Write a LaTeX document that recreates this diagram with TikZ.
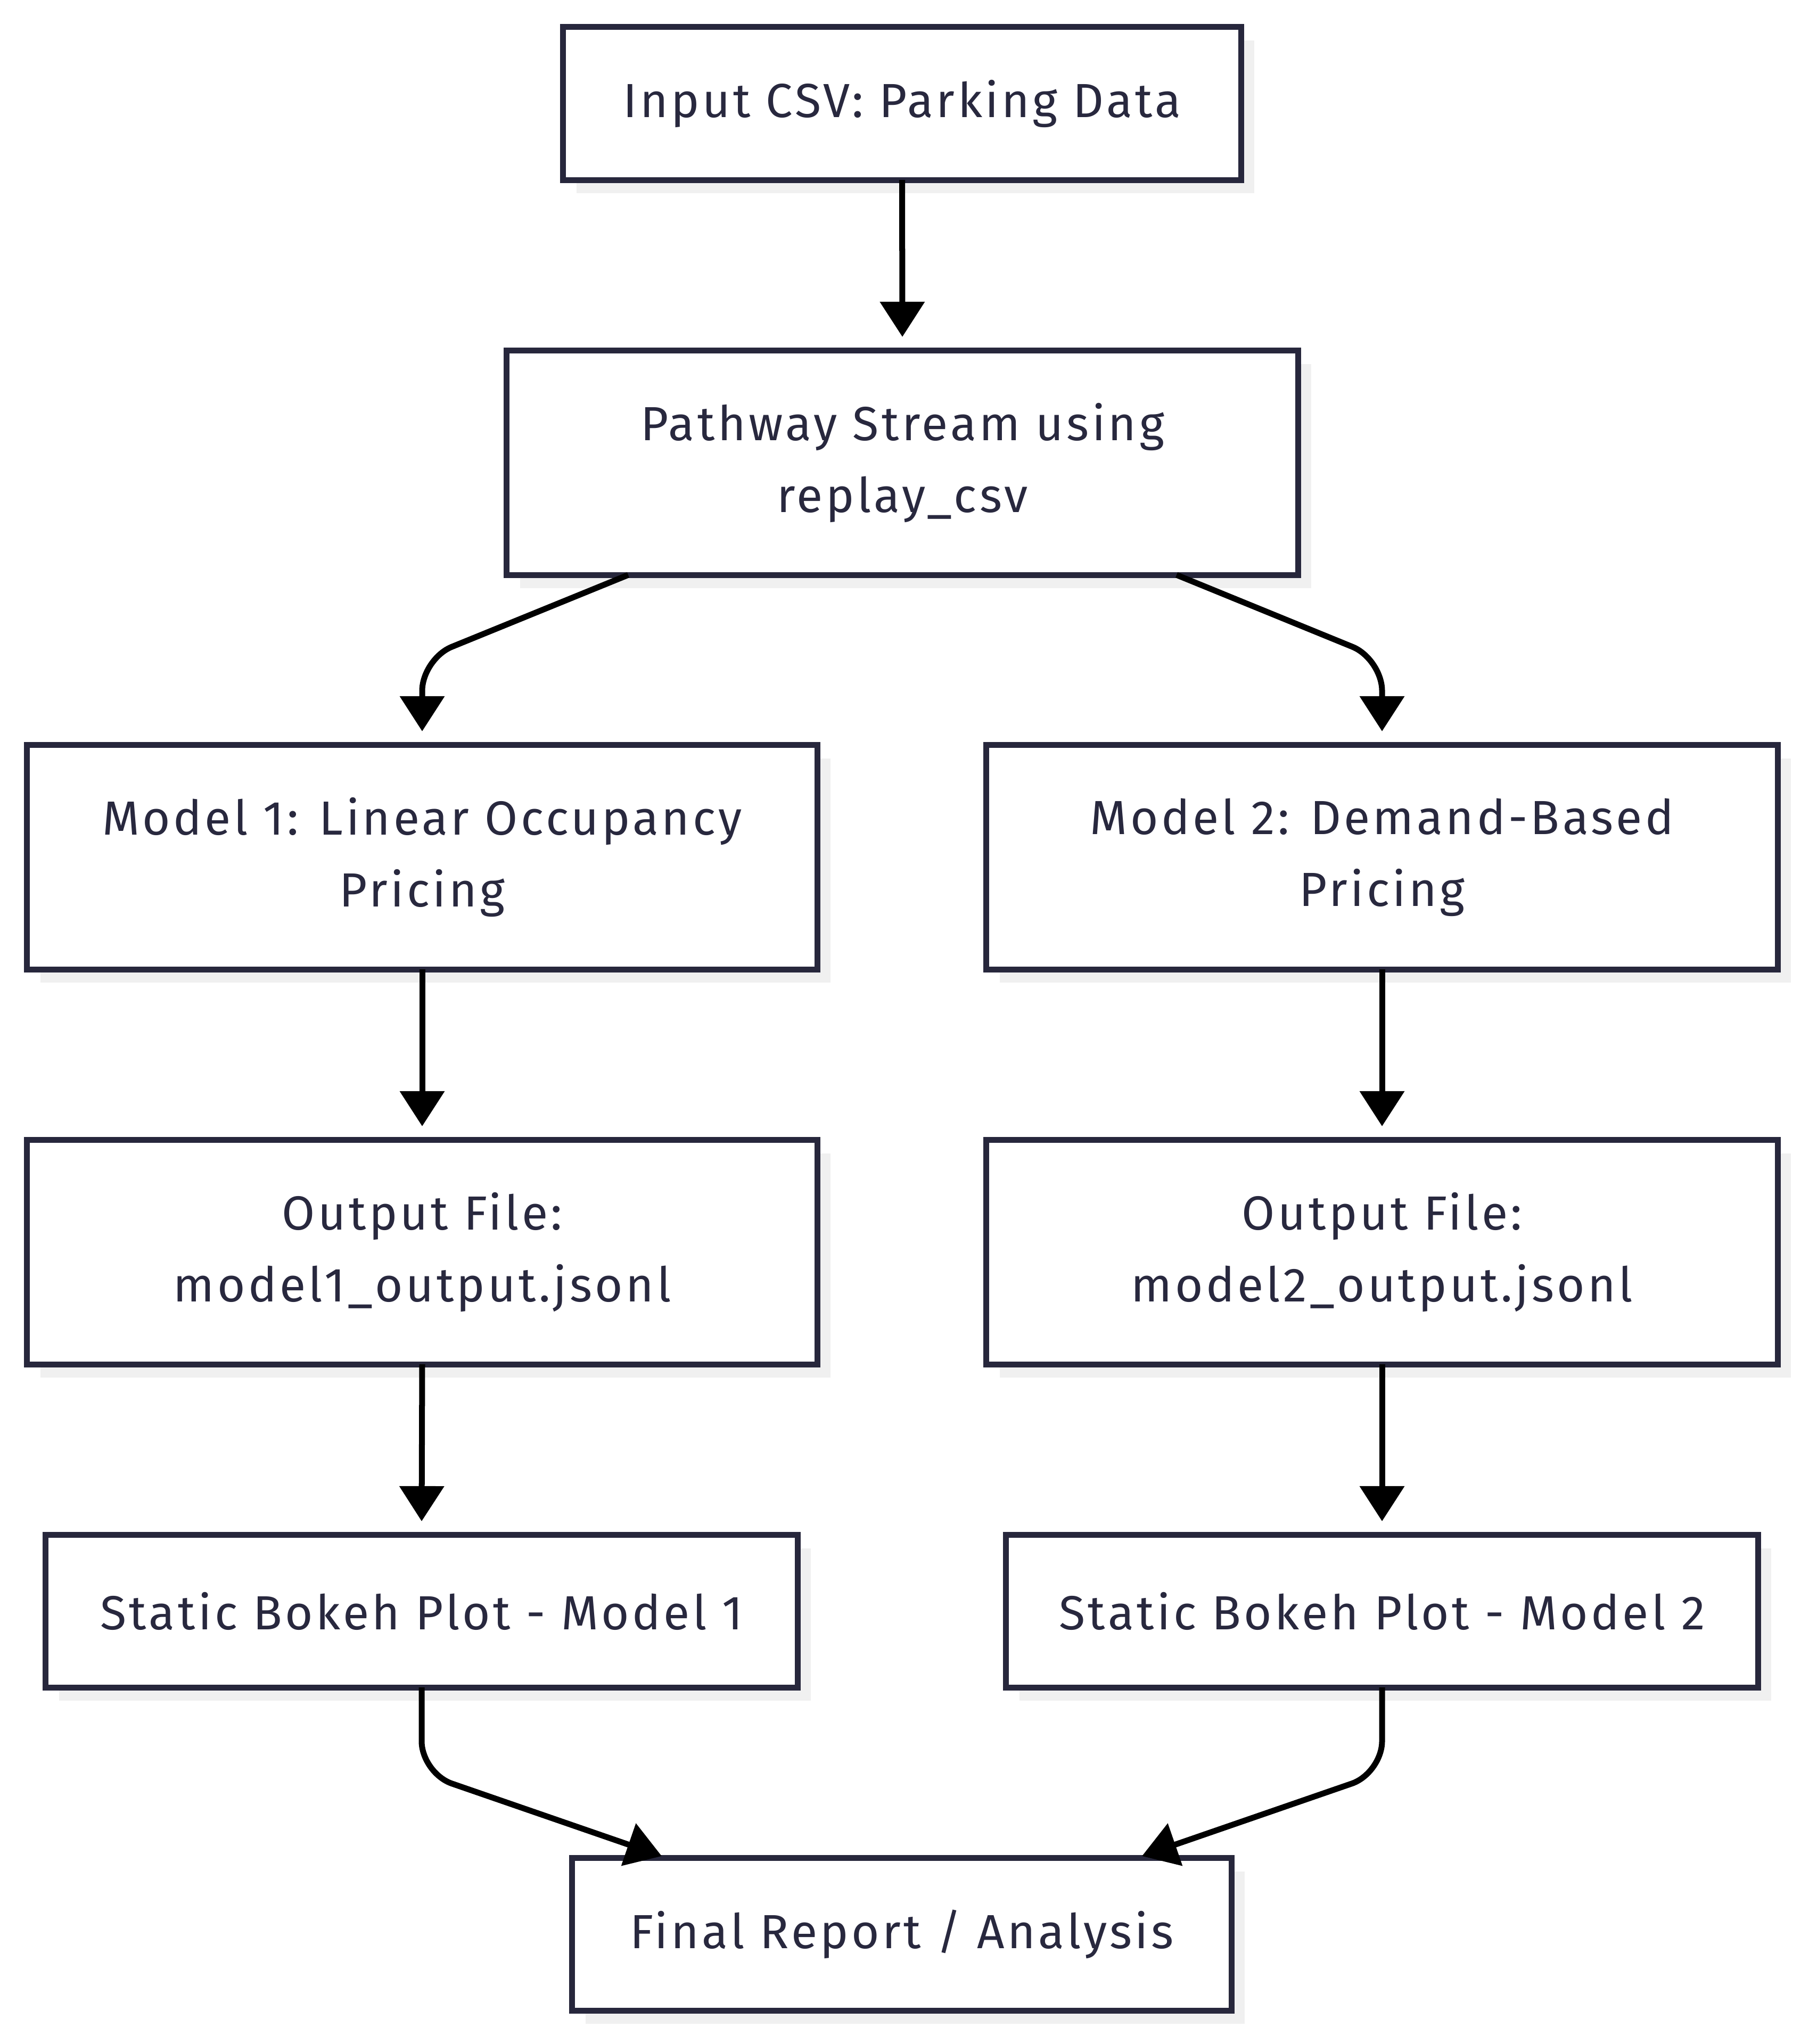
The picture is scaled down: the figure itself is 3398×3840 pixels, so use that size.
\documentclass[tikz,border=0pt]{standalone}
\usepackage{fontspec}
\newfontfamily\nodefont[LetterSpace=6]{Fira Sans}
\usetikzlibrary{arrows.meta,shadows,calc}
\definecolor{boxc}{RGB}{39,39,60}
\definecolor{textc}{RGB}{40,40,62}
\definecolor{shadowc}{RGB}{240,240,240}
\begin{document}
\begin{tikzpicture}[x=0.01cm,y=0.01cm,
  flowbox/.style={draw=boxc, line width=0.11cm, fill=white, text=textc,
    font=\nodefont\fontsize{25.6pt}{38.4pt}\selectfont, align=center,
    inner sep=0pt, outer sep=0pt,
    drop shadow={shadow xshift=0.25cm, shadow yshift=-0.25cm, fill=shadowc, opacity=1}},
  tall/.style={flowbox, minimum width=14.86cm, minimum height=4.21cm},
  low/.style={flowbox, minimum height=2.87cm},
  conn/.style={draw=black, line width=0.11cm, rounded corners=0.6cm,
    -{Triangle[length=0.66cm, width=0.82cm]}}
]
\useasboundingbox[fill=white] (0,0) rectangle (3398,-3840);

\node[low, minimum width=12.73cm] (inp) at (1694.5,-194.5) {Input CSV: Parking Data};
\node[tall] (path) at (1695,-869.5) {Pathway Stream using\\replay\_csv};
\node[tall, minimum width=14.84cm] (m1) at (793,-1610.5) {Model 1: Linear Occupancy\\Pricing};
\node[tall] (m2) at (2596,-1610.5) {Model 2: Demand-Based\\Pricing};
\node[tall, minimum width=14.84cm] (o1) at (793,-2352.5) {Output File:\\model1\_output.jsonl};
\node[tall] (o2) at (2596,-2352.5) {Output File:\\model2\_output.jsonl};
\node[low, minimum width=14.12cm, minimum height=2.86cm] (s1) at (792,-3027) {Static Bokeh Plot - Model 1};
\node[low, minimum width=14.12cm, minimum height=2.86cm] (s2) at (2596,-3027) {Static Bokeh Plot - Model 2};
\node[low, minimum width=12.38cm, minimum height=2.86cm] (fin) at (1694,-3634) {Final Report / Analysis};

\draw[conn] (inp.south) -- ($(path.north)+(0,26)$);
\draw[conn] ($(path.south)+(-515,0)$) -- ($(m1.north)+(0,162)$) -- ($(m1.north)+(0,26)$);
\draw[conn] ($(path.south)+(515,0)$) -- ($(m2.north)+(0,162)$) -- ($(m2.north)+(0,26)$);
\draw[conn] (m1.south) -- ($(o1.north)+(0,26)$);
\draw[conn] (m2.south) -- ($(o2.north)+(0,26)$);
\draw[conn] (o1.south) -- ($(s1.north)+(0,26)$);
\draw[conn] (o2.south) -- ($(s2.north)+(0,26)$);
\draw[conn] (s1.south) -- ($(s1.south)+(0,-161)$) -- ($(fin.north)+(-451,4)$);
\draw[conn] (s2.south) -- ($(s2.south)+(0,-161)$) -- ($(fin.north)+(451,4)$);
\end{tikzpicture}
\end{document}
